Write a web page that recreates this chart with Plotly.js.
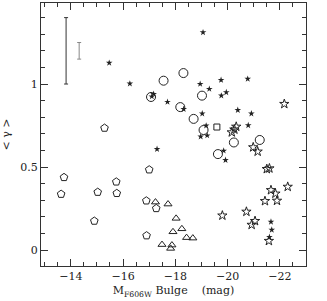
<!DOCTYPE html>
<html><head><meta charset="utf-8">
<script src="https://cdn.plot.ly/plotly-3.0.1.min.js"></script>
<style>html,body{margin:0;padding:0;background:#fff}#c{width:327px;height:301px}</style>
</head><body><div id="c"></div>
<script>
const pentX = [-15.29,-13.74,-13.63,-15.03,-15.74,-15.76,-14.90,-17.00,-16.89,-17.27,-16.90];
const pentY = [0.735,0.438,0.337,0.349,0.411,0.342,0.175,0.484,0.297,0.251,0.087];
const triX = [-17.24,-17.72,-18.03,-18.25,-17.91,-18.43,-18.67,-17.49,-17.87,-17.82];
const triY = [0.289,0.277,0.191,0.128,0.110,0.075,0.072,0.033,0.030,0.010];
const circX = [-18.31,-17.55,-17.07,-19.02,-18.19,-18.70,-19.08,-20.24,-21.23,-19.63];
const circY = [1.066,1.020,0.922,0.930,0.861,0.790,0.723,0.648,0.663,0.578];
const sqX = [-19.59];
const sqY = [0.741];
const smallStarX = [-15.47,-16.26,-17.17,-17.10,-19.06,-18.95,-19.30,-17.70,-18.32,-19.03,-19.18,-19.75,-20.77,-19.76,-19.95,-20.39,-20.91,-20.79,-18.97,-19.22,-17.30,-19.85,-19.92,-21.66,-21.69,-21.60];
const smallStarY = [1.127,1.002,0.940,0.925,1.311,1.000,0.970,0.892,0.849,0.822,0.749,1.024,1.031,0.930,0.950,0.843,0.822,0.751,0.683,0.690,0.608,0.598,0.542,0.170,0.122,0.078];
const bigStarX = [-20.16,-20.26,-20.33,-22.17,-20.98,-21.15,-21.50,-21.60,-22.30,-21.66,-21.83,-21.43,-21.89,-19.80,-20.72,-21.05,-20.92,-21.58];
const bigStarY = [0.709,0.726,0.743,0.880,0.619,0.593,0.488,0.492,0.381,0.361,0.340,0.295,0.297,0.208,0.231,0.175,0.152,0.055];
const errX = [-13.82,-14.32];
const errY = [1.20,1.20];
const errSize = [0.20,0.05];

const ink = '#222';
const traces = [
  {x:[errX[0]], y:[errY[0]], mode:'markers', marker:{size:1,opacity:0},
   error_y:{type:'data', array:[errSize[0]], visible:true, color:'#333', thickness:1, width:2}},
  {x:[errX[1]], y:[errY[1]], mode:'markers', marker:{size:1,opacity:0},
   error_y:{type:'data', array:[errSize[1]], visible:true, color:'#888', thickness:1, width:2}},
  {x:pentX, y:pentY, mode:'markers', marker:{symbol:'pentagon-open', size:8, color:ink, line:{width:1,color:ink}}},
  {x:triX, y:triY, mode:'markers', marker:{symbol:'triangle-up-open', size:7, color:ink, line:{width:1,color:ink}}},
  {x:circX, y:circY, mode:'markers', marker:{symbol:'circle-open', size:9, color:ink, line:{width:1,color:ink}}},
  {x:sqX, y:sqY, mode:'markers', marker:{symbol:'square-open', size:6, color:ink, line:{width:1,color:ink}}},
  {x:smallStarX, y:smallStarY, mode:'markers', marker:{symbol:'star', size:5, color:ink, line:{width:0}}},
  {x:bigStarX, y:bigStarY, mode:'markers', marker:{symbol:'star-open', size:7, color:ink, line:{width:1,color:ink}}}
];
const font = {family:'"DejaVu Serif", "Liberation Serif", serif', size:11, color:'#222'};
const layout = {
  width:327, height:301, showlegend:false,
  margin:{l:41, r:21, t:3, b:35, pad:0},
  paper_bgcolor:'#fff', plot_bgcolor:'#fff', font:font,
  xaxis:{range:[-12.86,-23.0], tick0:-14, dtick:2, ticks:'inside', ticklen:7, tickwidth:1, tickcolor:'#333',
    minor:{dtick:0.5, ticks:'inside', ticklen:4, tickcolor:'#333', tickwidth:1},
    showline:true, linecolor:'#333', linewidth:1, mirror:'allticks', showgrid:false, zeroline:false,
    title:{text:'M<sub>F606W</sub> Bulge    (mag)', font:font, standoff:4}},
  yaxis:{range:[-0.096,1.488], tickvals:[0,0.5,1], ticktext:['0','0.5','1'], ticks:'inside', ticklen:7, tickwidth:1, tickcolor:'#333',
    minor:{dtick:0.1, ticks:'inside', ticklen:4, tickcolor:'#333', tickwidth:1},
    showline:true, linecolor:'#333', linewidth:1, mirror:'allticks', showgrid:false, zeroline:false,
    title:{text:'< γ >', font:font, standoff:12}}
};
Plotly.newPlot('c', traces, layout, {displayModeBar:false, staticPlot:true});
</script></body></html>
